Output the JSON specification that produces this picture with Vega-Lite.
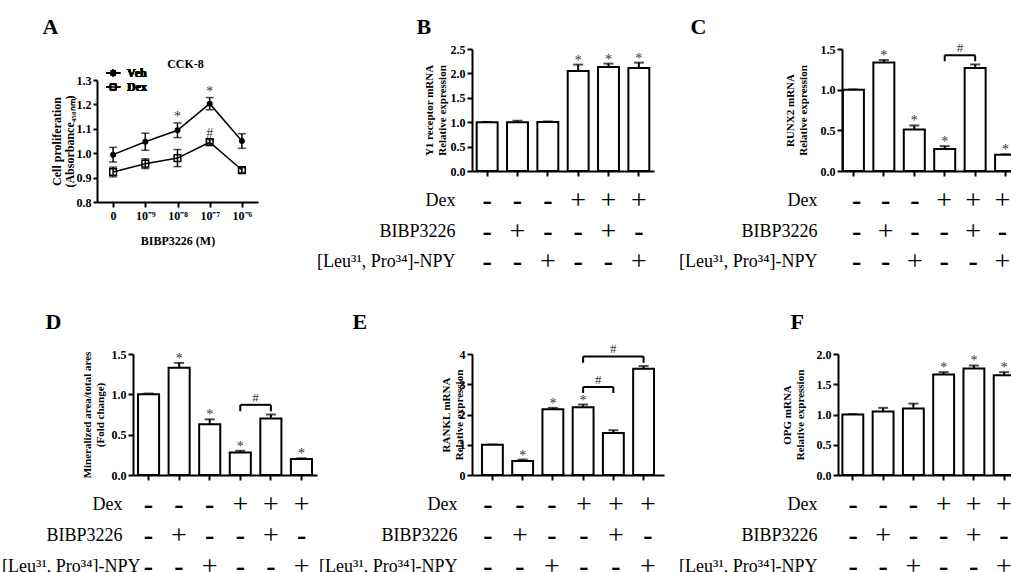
{
  "$schema": "https://vega.github.io/schema/vega-lite/v6.json",
  "padding": {"left": 0, "top": 14, "right": 0, "bottom": 0},
  "spacing": 31,
  "config": {
    "view": {"stroke": null},
    "font": "Liberation Serif",
    "axis": {
      "domainColor": "black", "domainWidth": 2, "tickColor": "black", "tickWidth": 2, "tickSize": 5,
      "labelFont": "Liberation Serif", "labelFontSize": 12, "labelFontWeight": "bold", "labelColor": "black", "labelPadding": 2,
      "titleFont": "Liberation Serif", "titleFontSize": 11, "titleFontWeight": "bold", "titleColor": "black", "titleLineHeight": 13,
      "grid": false
    },
    "text": {"font": "Liberation Serif", "color": "black"}
  },
  "datasets": {
    "A": [
      {"conc": 0, "series": "Veh", "value": 0.994, "err": 0.03, "sig": ""},
      {"conc": 1e-9, "series": "Veh", "value": 1.047, "err": 0.035, "sig": ""},
      {"conc": 1e-8, "series": "Veh", "value": 1.094, "err": 0.03, "sig": "*"},
      {"conc": 1e-7, "series": "Veh", "value": 1.203, "err": 0.025, "sig": "*"},
      {"conc": 1e-6, "series": "Veh", "value": 1.05, "err": 0.03, "sig": ""},
      {"conc": 0, "series": "Dex", "value": 0.923, "err": 0.02, "sig": ""},
      {"conc": 1e-9, "series": "Dex", "value": 0.957, "err": 0.02, "sig": ""},
      {"conc": 1e-8, "series": "Dex", "value": 0.98, "err": 0.035, "sig": ""},
      {"conc": 1e-7, "series": "Dex", "value": 1.045, "err": 0.01, "sig": "#"},
      {"conc": 1e-6, "series": "Dex", "value": 0.931, "err": 0.01, "sig": ""}
    ],
    "B": [
      {"g": "1", "value": 1.0, "err": 0.005, "sig": ""},
      {"g": "2", "value": 1.0, "err": 0.03, "sig": ""},
      {"g": "3", "value": 1.005, "err": 0.01, "sig": ""},
      {"g": "4", "value": 2.05, "err": 0.13, "sig": "*"},
      {"g": "5", "value": 2.13, "err": 0.07, "sig": "*"},
      {"g": "6", "value": 2.11, "err": 0.11, "sig": "*"}
    ],
    "C": [
      {"g": "1", "value": 1.0, "err": 0.0, "sig": ""},
      {"g": "2", "value": 1.335, "err": 0.03, "sig": "*"},
      {"g": "3", "value": 0.51, "err": 0.05, "sig": "*"},
      {"g": "4", "value": 0.27, "err": 0.035, "sig": "*"},
      {"g": "5", "value": 1.265, "err": 0.045, "sig": ""},
      {"g": "6", "value": 0.2, "err": 0.005, "sig": "*"}
    ],
    "D": [
      {"g": "1", "value": 1.0, "err": 0.01, "sig": ""},
      {"g": "2", "value": 1.33, "err": 0.06, "sig": "*"},
      {"g": "3", "value": 0.63, "err": 0.06, "sig": "*"},
      {"g": "4", "value": 0.28, "err": 0.02, "sig": "*"},
      {"g": "5", "value": 0.7, "err": 0.05, "sig": ""},
      {"g": "6", "value": 0.197, "err": 0.01, "sig": "*"}
    ],
    "E": [
      {"g": "1", "value": 1.0, "err": 0.005, "sig": ""},
      {"g": "2", "value": 0.46, "err": 0.05, "sig": "*"},
      {"g": "3", "value": 2.17, "err": 0.05, "sig": "*"},
      {"g": "4", "value": 2.24, "err": 0.09, "sig": "*"},
      {"g": "5", "value": 1.39, "err": 0.09, "sig": ""},
      {"g": "6", "value": 3.51, "err": 0.09, "sig": ""}
    ],
    "F": [
      {"g": "1", "value": 1.0, "err": 0.005, "sig": ""},
      {"g": "2", "value": 1.05, "err": 0.06, "sig": ""},
      {"g": "3", "value": 1.1, "err": 0.08, "sig": ""},
      {"g": "4", "value": 1.66, "err": 0.04, "sig": "*"},
      {"g": "5", "value": 1.76, "err": 0.05, "sig": "*"},
      {"g": "6", "value": 1.65, "err": 0.05, "sig": "*"}
    ],
    "brk": [
      {"panel": "C", "from": "4", "to": "5", "y": 1.423, "yl": 1.35, "label": "#", "span": 1},
      {"panel": "D", "from": "4", "to": "5", "y": 0.87, "yl": 0.79, "label": "#", "span": 1},
      {"panel": "E", "from": "4", "to": "5", "y": 2.91, "yl": 2.71, "label": "#", "span": 1},
      {"panel": "E", "from": "4", "to": "6", "y": 3.92, "yl": 3.71, "label": "#", "span": 2}
    ],
    "tab": [
      {"g": "1", "f": "Dex", "s": "-"}, {"g": "2", "f": "Dex", "s": "-"}, {"g": "3", "f": "Dex", "s": "-"},
      {"g": "4", "f": "Dex", "s": "+"}, {"g": "5", "f": "Dex", "s": "+"}, {"g": "6", "f": "Dex", "s": "+"},
      {"g": "1", "f": "BIBP3226", "s": "-"}, {"g": "2", "f": "BIBP3226", "s": "+"}, {"g": "3", "f": "BIBP3226", "s": "-"},
      {"g": "4", "f": "BIBP3226", "s": "-"}, {"g": "5", "f": "BIBP3226", "s": "+"}, {"g": "6", "f": "BIBP3226", "s": "-"},
      {"g": "1", "f": "[Leu³¹, Pro³⁴]-NPY", "s": "-"}, {"g": "2", "f": "[Leu³¹, Pro³⁴]-NPY", "s": "-"}, {"g": "3", "f": "[Leu³¹, Pro³⁴]-NPY", "s": "+"},
      {"g": "4", "f": "[Leu³¹, Pro³⁴]-NPY", "s": "-"}, {"g": "5", "f": "[Leu³¹, Pro³⁴]-NPY", "s": "-"}, {"g": "6", "f": "[Leu³¹, Pro³⁴]-NPY", "s": "+"}
    ]
  },
  "vconcat": [
    {
      "spacing": 0,
      "hconcat": [
        {"width": 42, "height": 1, "data": {"values": []}, "mark": "point"},
        {"spacing": 0, "vconcat": [
          {"width": 1, "height": 1, "data": {"values": []}, "mark": "point"},
          {
            "width": 161, "height": 122,
            "data": {"name": "A"},
            "resolve": {"scale": {"x": "independent", "y": "independent"}, "axis": {"x": "independent", "y": "independent"}},
            "layer": [
              {
                "encoding": {
                  "x": {"field": "conc", "type": "ordinal", "scale": {"type": "point", "padding": 0.5},
                        "axis": {"title": "BIBP3226 (M)", "titleFontSize": 12, "labelAngle": 0, "labelPadding": 3, "titlePadding": 14,
                                 "labelExpr": "datum.value === 0 ? '0' : datum.value === 1e-9 ? '10⁻⁹' : datum.value === 1e-8 ? '10⁻⁸' : datum.value === 1e-7 ? '10⁻⁷' : '10⁻⁶'"}},
                  "y": {"field": "value", "type": "quantitative", "title": ["Cell  proliferation", "(Absorbance₄₅₀ₙₘ)"],
                        "scale": {"domain": [0.8, 1.3], "nice": false, "zero": false},
                        "axis": {"values": [0.8, 0.9, 1.0, 1.1, 1.2, 1.3], "format": ".1f", "titlePadding": 0, "titleFontSize": 12, "tickSize": 4}}
                },
                "layer": [
                  {"mark": {"type": "errorbar", "ticks": true, "size": 8, "thickness": 1.5, "color": "black"},
                   "encoding": {"yError": {"field": "err"}, "detail": {"field": "series"}}},
                  {"mark": {"type": "line", "color": "black", "strokeWidth": 1.5},
                   "encoding": {"detail": {"field": "series"}}},
                  {"transform": [{"filter": "datum.series === 'Veh'"}],
                   "mark": {"type": "point", "shape": "circle", "filled": true, "color": "black", "size": 35, "opacity": 1}},
                  {"transform": [{"filter": "datum.series === 'Dex'"}],
                   "mark": {"type": "point", "shape": "square", "filled": false, "color": "black", "size": 45, "strokeWidth": 1.5, "opacity": 1}},
                  {"transform": [{"calculate": "datum.value + datum.err", "as": "top"}],
                   "mark": {"type": "text", "baseline": "alphabetic", "fontSize": 14, "dy": -2, "color": "#333"},
                   "encoding": {"y": {"field": "top", "type": "quantitative", "title": ["Cell  proliferation", "(Absorbance₄₅₀ₙₘ)"]}, "text": {"field": "sig"}}},
                  {"mark": {"type": "point", "shape": "M-1,0H-0.35M0.35,0H1M-0.35,0A0.35,0.35,0,1,1,0.35,0A0.35,0.35,0,1,1,-0.35,0Z", "size": 200, "filled": true, "fill": "black", "stroke": "black", "strokeWidth": 1.5, "opacity": 1},
                   "encoding": {"x": {"datum": 0, "type": "ordinal"}, "y": {"datum": 1.3287, "type": "quantitative"}}},
                  {"mark": {"type": "point", "shape": "M-1,0H1M-0.35,-0.35H0.35V0.35H-0.35Z", "size": 200, "filled": true, "fill": "white", "stroke": "black", "strokeWidth": 1.5, "opacity": 1},
                   "encoding": {"x": {"datum": 0, "type": "ordinal"}, "y": {"datum": 1.2713, "type": "quantitative"}}},
                  {"mark": {"type": "text", "align": "left", "dx": 14, "baseline": "middle", "fontSize": 12, "fontWeight": "bold"},
                   "encoding": {"x": {"datum": 0, "type": "ordinal"}, "y": {"datum": 1.3287, "type": "quantitative"}, "text": {"value": "Veh"}}},
                  {"mark": {"type": "text", "align": "left", "dx": 14, "baseline": "middle", "fontSize": 12, "fontWeight": "bold"},
                   "encoding": {"x": {"datum": 0, "type": "ordinal"}, "y": {"datum": 1.2713, "type": "quantitative"}, "text": {"value": "Dex"}}}
                ]
              },
              {
                "transform": [{"filter": "false"}],
                "mark": "point",
                "encoding": {
                  "x": {"field": "conc", "type": "ordinal",
                        "axis": {"orient": "top", "labels": false, "ticks": false, "domain": false, "title": "A", "titleX": -55, "titleY": -47,
                                 "titleAlign": "left", "titleBaseline": "alphabetic", "titleFontSize": 22, "titleAngle": 0}},
                  "y": {"field": "value", "type": "quantitative", "scale": {"domain": [0, 1]},
                        "axis": {"orient": "right", "labels": false, "ticks": false, "domain": false, "title": "CCK-8", "titleX": -73, "titleY": -13,
                                 "titleAlign": "center", "titleBaseline": "alphabetic", "titleFontSize": 12, "titleAngle": 0}}
                }
              }
            ]
          }
        ]},
        {"width": 58, "height": 1, "data": {"values": []}, "mark": "point"},
        {"spacing": 0, "vconcat": [
          {"width": 1, "height": 1, "data": {"values": []}, "mark": "point"},
          {"spacing": 8.75, "vconcat": [
            {
              "width": 182, "height": 122,
              "data": {"name": "B"},
              "resolve": {"scale": {"x": "independent"}, "axis": {"x": "independent"}},
              "layer": [
                {
                  "encoding": {
                    "x": {"field": "g", "type": "nominal", "scale": {"paddingInner": 0.31, "paddingOuter": 0.155}, "axis": {"labels": false, "title": null}},
                    "y": {"field": "value", "type": "quantitative", "title": ["Y1 receptor mRNA", "Relative expression"],
                          "scale": {"domain": [0, 2.5], "nice": false}, "axis": {"values": [0, 0.5, 1, 1.5, 2, 2.5], "format": ".1f", "titlePadding": 3}}
                  },
                  "layer": [
                    {"mark": {"type": "errorbar", "ticks": true, "size": 10, "thickness": 2, "color": "black"}, "encoding": {"yError": {"field": "err"}}},
                    {"mark": {"type": "bar", "fill": "white", "stroke": "black", "strokeWidth": 2}},
                    {"transform": [{"calculate": "datum.value + datum.err", "as": "top"}],
                     "mark": {"type": "text", "baseline": "alphabetic", "fontSize": 14, "color": "#333"},
                     "encoding": {"y": {"field": "top", "type": "quantitative", "title": ["Y1 receptor mRNA", "Relative expression"]}, "text": {"field": "sig"}}}
                  ]
                },
                {
                  "transform": [{"filter": "false"}], "mark": "point",
                  "encoding": {"x": {"field": "g", "type": "nominal",
                    "axis": {"orient": "top", "labels": false, "ticks": false, "domain": false, "title": "B", "titleX": -56, "titleY": -16,
                             "titleAlign": "left", "titleBaseline": "alphabetic", "titleFontSize": 22, "titleAngle": 0}}}
                }
              ]
            },
            {
              "width": 182, "height": 91.5,
              "data": {"name": "tab"},
              "encoding": {
                "x": {"field": "g", "type": "nominal", "scale": {"paddingInner": 0.31, "paddingOuter": 0.155}, "axis": null},
                "y": {"field": "f", "type": "nominal", "sort": ["Dex", "BIBP3226", "[Leu³¹, Pro³⁴]-NPY"], "scale": {"type": "band", "paddingInner": 0, "paddingOuter": 0},
                      "axis": {"title": null, "domain": false, "ticks": false, "labelFont": "Liberation Serif, Times New Roman, serif", "labelFontWeight": "normal", "labelFontSize": 18, "labelPadding": 17}},
                "text": {"field": "s"}
              },
              "layer": [
                {"transform": [{"filter": "datum.s === '+'"}], "mark": {"type": "text", "font": "Liberation Serif, Times New Roman, serif", "fontSize": 28, "baseline": "middle"}},
                {"transform": [{"filter": "datum.s === '-'"}], "mark": {"type": "text", "font": "Liberation Serif, Times New Roman, serif", "fontSize": 28, "fontWeight": "bold", "baseline": "middle"}}
              ]
            }
          ]}
        ]},
        {"width": 24, "height": 1, "data": {"values": []}, "mark": "point"},
        {"spacing": 0, "vconcat": [
          {"width": 1, "height": 1, "data": {"values": []}, "mark": "point"},
          {"spacing": 8.75, "vconcat": [
            {
              "width": 175, "height": 122,
              "data": {"name": "C"},
              "resolve": {"scale": {"x": "independent"}, "axis": {"x": "independent"}},
              "layer": [
                {
                  "encoding": {
                    "x": {"field": "g", "type": "nominal", "scale": {"paddingInner": 0.31, "paddingOuter": 0.03}, "axis": {"labels": false, "title": null}},
                    "y": {"field": "value", "type": "quantitative", "title": ["RUNX2  mRNA", "Relative expression"],
                          "scale": {"domain": [0, 1.5], "nice": false}, "axis": {"values": [0, 0.5, 1, 1.5], "format": ".1f", "titlePadding": 12}}
                  },
                  "layer": [
                    {"mark": {"type": "errorbar", "ticks": true, "size": 10, "thickness": 2, "color": "black"}, "encoding": {"yError": {"field": "err"}}},
                    {"mark": {"type": "bar", "fill": "white", "stroke": "black", "strokeWidth": 2}},
                    {"transform": [{"calculate": "datum.value + datum.err", "as": "top"}],
                     "mark": {"type": "text", "baseline": "alphabetic", "fontSize": 14, "color": "#333"},
                     "encoding": {"y": {"field": "top", "type": "quantitative", "title": ["RUNX2  mRNA", "Relative expression"]}, "text": {"field": "sig"}}},
                    {"data": {"name": "brk"}, "transform": [{"filter": "datum.panel === 'C'"}],
                     "mark": {"type": "rule", "strokeWidth": 2, "color": "black"},
                     "encoding": {"x": {"field": "from", "type": "nominal"}, "x2": {"field": "to"}, "y": {"field": "y", "type": "quantitative", "title": ["RUNX2  mRNA", "Relative expression"]}}},
                    {"data": {"name": "brk"}, "transform": [{"filter": "datum.panel === 'C'"}],
                     "mark": {"type": "rule", "strokeWidth": 2, "color": "black"},
                     "encoding": {"x": {"field": "from", "type": "nominal"}, "y": {"field": "yl", "type": "quantitative", "title": ["RUNX2  mRNA", "Relative expression"]}, "y2": {"field": "y"}}},
                    {"data": {"name": "brk"}, "transform": [{"filter": "datum.panel === 'C'"}],
                     "mark": {"type": "rule", "strokeWidth": 2, "color": "black"},
                     "encoding": {"x": {"field": "to", "type": "nominal"}, "y": {"field": "yl", "type": "quantitative", "title": ["RUNX2  mRNA", "Relative expression"]}, "y2": {"field": "y"}}},
                    {"data": {"name": "brk"}, "transform": [{"filter": "datum.panel === 'C' && datum.span === 1"}],
                     "mark": {"type": "text", "baseline": "alphabetic", "fontSize": 13, "dy": -3, "color": "#333"},
                     "encoding": {"x": {"field": "from", "type": "nominal", "bandPosition": 1.225}, "y": {"field": "y", "type": "quantitative", "title": ["RUNX2  mRNA", "Relative expression"]}, "text": {"field": "label"}}}
                  ]
                },
                {
                  "transform": [{"filter": "false"}], "mark": "point",
                  "encoding": {"x": {"field": "g", "type": "nominal",
                    "axis": {"orient": "top", "labels": false, "ticks": false, "domain": false, "title": "C", "titleX": -152, "titleY": -16,
                             "titleAlign": "left", "titleBaseline": "alphabetic", "titleFontSize": 22, "titleAngle": 0}}}
                }
              ]
            },
            {
              "width": 175, "height": 91.5,
              "data": {"name": "tab"},
              "encoding": {
                "x": {"field": "g", "type": "nominal", "scale": {"paddingInner": 0.31, "paddingOuter": 0.03}, "axis": null},
                "y": {"field": "f", "type": "nominal", "sort": ["Dex", "BIBP3226", "[Leu³¹, Pro³⁴]-NPY"], "scale": {"type": "band", "paddingInner": 0, "paddingOuter": 0},
                      "axis": {"title": null, "domain": false, "ticks": false, "labelFont": "Liberation Serif, Times New Roman, serif", "labelFontWeight": "normal", "labelFontSize": 18, "labelPadding": 25}},
                "text": {"field": "s"}
              },
              "layer": [
                {"transform": [{"filter": "datum.s === '+'"}], "mark": {"type": "text", "font": "Liberation Serif, Times New Roman, serif", "fontSize": 28, "baseline": "middle"}},
                {"transform": [{"filter": "datum.s === '-'"}], "mark": {"type": "text", "font": "Liberation Serif, Times New Roman, serif", "fontSize": 28, "fontWeight": "bold", "baseline": "middle"}}
              ]
            }
          ]}
        ]}
      ]
    },
    {
      "spacing": 0,
      "hconcat": [
        {"width": 1, "height": 1, "data": {"values": []}, "mark": "point"},
        {"spacing": 0, "vconcat": [
          {"width": 1, "height": 1, "data": {"values": []}, "mark": "point"},
          {"spacing": 8.5, "vconcat": [
            {
              "width": 184, "height": 121,
              "data": {"name": "D"},
              "resolve": {"scale": {"x": "independent"}, "axis": {"x": "independent"}},
              "layer": [
                {
                  "encoding": {
                    "x": {"field": "g", "type": "nominal", "scale": {"paddingInner": 0.31, "paddingOuter": 0.164}, "axis": {"labels": false, "title": null}},
                    "y": {"field": "value", "type": "quantitative", "title": ["Mineralized area/total ares", "(Fold change)"],
                          "scale": {"domain": [0, 1.5], "nice": false}, "axis": {"values": [0, 0.5, 1, 1.5], "format": ".1f", "titlePadding": 6}}
                  },
                  "layer": [
                    {"mark": {"type": "errorbar", "ticks": true, "size": 10, "thickness": 2, "color": "black"}, "encoding": {"yError": {"field": "err"}}},
                    {"mark": {"type": "bar", "fill": "white", "stroke": "black", "strokeWidth": 2}},
                    {"transform": [{"calculate": "datum.value + datum.err", "as": "top"}],
                     "mark": {"type": "text", "baseline": "alphabetic", "fontSize": 14, "color": "#333"},
                     "encoding": {"y": {"field": "top", "type": "quantitative", "title": ["Mineralized area/total ares", "(Fold change)"]}, "text": {"field": "sig"}}},
                    {"data": {"name": "brk"}, "transform": [{"filter": "datum.panel === 'D'"}],
                     "mark": {"type": "rule", "strokeWidth": 2, "color": "black"},
                     "encoding": {"x": {"field": "from", "type": "nominal"}, "x2": {"field": "to"}, "y": {"field": "y", "type": "quantitative", "title": ["Mineralized area/total ares", "(Fold change)"]}}},
                    {"data": {"name": "brk"}, "transform": [{"filter": "datum.panel === 'D'"}],
                     "mark": {"type": "rule", "strokeWidth": 2, "color": "black"},
                     "encoding": {"x": {"field": "from", "type": "nominal"}, "y": {"field": "yl", "type": "quantitative", "title": ["Mineralized area/total ares", "(Fold change)"]}, "y2": {"field": "y"}}},
                    {"data": {"name": "brk"}, "transform": [{"filter": "datum.panel === 'D'"}],
                     "mark": {"type": "rule", "strokeWidth": 2, "color": "black"},
                     "encoding": {"x": {"field": "to", "type": "nominal"}, "y": {"field": "yl", "type": "quantitative", "title": ["Mineralized area/total ares", "(Fold change)"]}, "y2": {"field": "y"}}},
                    {"data": {"name": "brk"}, "transform": [{"filter": "datum.panel === 'D' && datum.span === 1"}],
                     "mark": {"type": "text", "baseline": "alphabetic", "fontSize": 13, "dy": -3, "color": "#333"},
                     "encoding": {"x": {"field": "from", "type": "nominal", "bandPosition": 1.225}, "y": {"field": "y", "type": "quantitative", "title": ["Mineralized area/total ares", "(Fold change)"]}, "text": {"field": "label"}}}
                  ]
                },
                {
                  "transform": [{"filter": "false"}], "mark": "point",
                  "encoding": {"x": {"field": "g", "type": "nominal",
                    "axis": {"orient": "top", "labels": false, "ticks": false, "domain": false, "title": "D", "titleX": -88, "titleY": -26,
                             "titleAlign": "left", "titleBaseline": "alphabetic", "titleFontSize": 22, "titleAngle": 0}}}
                }
              ]
            },
            {
              "width": 184, "height": 93,
              "data": {"name": "tab"},
              "encoding": {
                "x": {"field": "g", "type": "nominal", "scale": {"paddingInner": 0.31, "paddingOuter": 0.164}, "axis": null},
                "y": {"field": "f", "type": "nominal", "sort": ["Dex", "BIBP3226", "[Leu³¹, Pro³⁴]-NPY"], "scale": {"type": "band", "paddingInner": 0, "paddingOuter": 0},
                      "axis": {"title": null, "domain": false, "ticks": false, "labelFont": "Liberation Serif, Times New Roman, serif", "labelFontWeight": "normal", "labelFontSize": 18,
                               "labelPadding": {"condition": {"test": "datum.value === '[Leu³¹, Pro³⁴]-NPY'", "value": -7}, "value": 11}}},
                "text": {"field": "s"}
              },
              "layer": [
                {"transform": [{"filter": "datum.s === '+'"}], "mark": {"type": "text", "font": "Liberation Serif, Times New Roman, serif", "fontSize": 28, "baseline": "middle"}},
                {"transform": [{"filter": "datum.s === '-'"}], "mark": {"type": "text", "font": "Liberation Serif, Times New Roman, serif", "fontSize": 28, "fontWeight": "bold", "baseline": "middle"}}
              ]
            }
          ]}
        ]},
        {"width": 1, "height": 1, "data": {"values": []}, "mark": "point"},
        {"spacing": 0, "vconcat": [
          {"width": 1, "height": 1, "data": {"values": []}, "mark": "point"},
          {"spacing": 8.5, "vconcat": [
            {
              "width": 192, "height": 121,
              "data": {"name": "E"},
              "resolve": {"scale": {"x": "independent"}, "axis": {"x": "independent"}},
              "layer": [
                {
                  "encoding": {
                    "x": {"field": "g", "type": "nominal", "scale": {"paddingInner": 0.31, "paddingOuter": 0.33}, "axis": {"labels": false, "title": null}},
                    "y": {"field": "value", "type": "quantitative", "title": ["RANKL mRNA", "Relative expression"],
                          "scale": {"domain": [0, 4], "nice": false}, "axis": {"values": [0, 1, 2, 3, 4], "format": "d", "titlePadding": -5}}
                  },
                  "layer": [
                    {"mark": {"type": "errorbar", "ticks": true, "size": 10, "thickness": 2, "color": "black"}, "encoding": {"yError": {"field": "err"}}},
                    {"mark": {"type": "bar", "fill": "white", "stroke": "black", "strokeWidth": 2}},
                    {"transform": [{"calculate": "datum.value + datum.err", "as": "top"}],
                     "mark": {"type": "text", "baseline": "alphabetic", "fontSize": 14, "color": "#333"},
                     "encoding": {"y": {"field": "top", "type": "quantitative", "title": ["RANKL mRNA", "Relative expression"]}, "text": {"field": "sig"}}},
                    {"data": {"name": "brk"}, "transform": [{"filter": "datum.panel === 'E'"}],
                     "mark": {"type": "rule", "strokeWidth": 2, "color": "black"},
                     "encoding": {"x": {"field": "from", "type": "nominal"}, "x2": {"field": "to"}, "y": {"field": "y", "type": "quantitative", "title": ["RANKL mRNA", "Relative expression"]}}},
                    {"data": {"name": "brk"}, "transform": [{"filter": "datum.panel === 'E'"}],
                     "mark": {"type": "rule", "strokeWidth": 2, "color": "black"},
                     "encoding": {"x": {"field": "from", "type": "nominal"}, "y": {"field": "yl", "type": "quantitative", "title": ["RANKL mRNA", "Relative expression"]}, "y2": {"field": "y"}}},
                    {"data": {"name": "brk"}, "transform": [{"filter": "datum.panel === 'E'"}],
                     "mark": {"type": "rule", "strokeWidth": 2, "color": "black"},
                     "encoding": {"x": {"field": "to", "type": "nominal"}, "y": {"field": "yl", "type": "quantitative", "title": ["RANKL mRNA", "Relative expression"]}, "y2": {"field": "y"}}},
                    {"data": {"name": "brk"}, "transform": [{"filter": "datum.panel === 'E' && datum.span === 1"}],
                     "mark": {"type": "text", "baseline": "alphabetic", "fontSize": 13, "dy": -3, "color": "#333"},
                     "encoding": {"x": {"field": "from", "type": "nominal", "bandPosition": 1.225}, "y": {"field": "y", "type": "quantitative", "title": ["RANKL mRNA", "Relative expression"]}, "text": {"field": "label"}}},
                    {"data": {"name": "brk"}, "transform": [{"filter": "datum.panel === 'E' && datum.span === 2"}],
                     "mark": {"type": "text", "baseline": "alphabetic", "fontSize": 13, "dy": -3, "color": "#333"},
                     "encoding": {"x": {"field": "from", "type": "nominal", "bandPosition": 1.949}, "y": {"field": "y", "type": "quantitative", "title": ["RANKL mRNA", "Relative expression"]}, "text": {"field": "label"}}}
                  ]
                },
                {
                  "transform": [{"filter": "false"}], "mark": "point",
                  "encoding": {"x": {"field": "g", "type": "nominal",
                    "axis": {"orient": "top", "labels": false, "ticks": false, "domain": false, "title": "E", "titleX": -120, "titleY": -26,
                             "titleAlign": "left", "titleBaseline": "alphabetic", "titleFontSize": 22, "titleAngle": 0}}}
                }
              ]
            },
            {
              "width": 192, "height": 93,
              "data": {"name": "tab"},
              "encoding": {
                "x": {"field": "g", "type": "nominal", "scale": {"paddingInner": 0.31, "paddingOuter": 0.33}, "axis": null},
                "y": {"field": "f", "type": "nominal", "sort": ["Dex", "BIBP3226", "[Leu³¹, Pro³⁴]-NPY"], "scale": {"type": "band", "paddingInner": 0, "paddingOuter": 0},
                      "axis": {"title": null, "domain": false, "ticks": false, "labelFont": "Liberation Serif, Times New Roman, serif", "labelFontWeight": "normal", "labelFontSize": 18, "labelPadding": 15}},
                "text": {"field": "s"}
              },
              "layer": [
                {"transform": [{"filter": "datum.s === '+'"}], "mark": {"type": "text", "font": "Liberation Serif, Times New Roman, serif", "fontSize": 28, "baseline": "middle"}},
                {"transform": [{"filter": "datum.s === '-'"}], "mark": {"type": "text", "font": "Liberation Serif, Times New Roman, serif", "fontSize": 28, "fontWeight": "bold", "baseline": "middle"}}
              ]
            }
          ]}
        ]},
        {"width": 14, "height": 1, "data": {"values": []}, "mark": "point"},
        {"spacing": 0, "vconcat": [
          {"width": 1, "height": 1, "data": {"values": []}, "mark": "point"},
          {"spacing": 8.5, "vconcat": [
            {
              "width": 181, "height": 121,
              "data": {"name": "F"},
              "resolve": {"scale": {"x": "independent"}, "axis": {"x": "independent"}},
              "layer": [
                {
                  "encoding": {
                    "x": {"field": "g", "type": "nominal", "scale": {"paddingInner": 0.31, "paddingOuter": 0.145}, "axis": {"labels": false, "title": null}},
                    "y": {"field": "value", "type": "quantitative", "title": ["OPG mRNA", "Relative expression"],
                          "scale": {"domain": [0, 2], "nice": false}, "axis": {"values": [0, 0.5, 1, 1.5, 2], "format": ".1f", "titlePadding": 11}}
                  },
                  "layer": [
                    {"mark": {"type": "errorbar", "ticks": true, "size": 10, "thickness": 2, "color": "black"}, "encoding": {"yError": {"field": "err"}}},
                    {"mark": {"type": "bar", "fill": "white", "stroke": "black", "strokeWidth": 2}},
                    {"transform": [{"calculate": "datum.value + datum.err", "as": "top"}],
                     "mark": {"type": "text", "baseline": "alphabetic", "fontSize": 14, "color": "#333"},
                     "encoding": {"y": {"field": "top", "type": "quantitative", "title": ["OPG mRNA", "Relative expression"]}, "text": {"field": "sig"}}}
                  ]
                },
                {
                  "transform": [{"filter": "false"}], "mark": "point",
                  "encoding": {"x": {"field": "g", "type": "nominal",
                    "axis": {"orient": "top", "labels": false, "ticks": false, "domain": false, "title": "F", "titleX": -48, "titleY": -26,
                             "titleAlign": "left", "titleBaseline": "alphabetic", "titleFontSize": 22, "titleAngle": 0}}}
                }
              ]
            },
            {
              "width": 181, "height": 93,
              "data": {"name": "tab"},
              "encoding": {
                "x": {"field": "g", "type": "nominal", "scale": {"paddingInner": 0.31, "paddingOuter": 0.145}, "axis": null},
                "y": {"field": "f", "type": "nominal", "sort": ["Dex", "BIBP3226", "[Leu³¹, Pro³⁴]-NPY"], "scale": {"type": "band", "paddingInner": 0, "paddingOuter": 0},
                      "axis": {"title": null, "domain": false, "ticks": false, "labelFont": "Liberation Serif, Times New Roman, serif", "labelFontWeight": "normal", "labelFontSize": 18, "labelPadding": 21}},
                "text": {"field": "s"}
              },
              "layer": [
                {"transform": [{"filter": "datum.s === '+'"}], "mark": {"type": "text", "font": "Liberation Serif, Times New Roman, serif", "fontSize": 28, "baseline": "middle"}},
                {"transform": [{"filter": "datum.s === '-'"}], "mark": {"type": "text", "font": "Liberation Serif, Times New Roman, serif", "fontSize": 28, "fontWeight": "bold", "baseline": "middle"}}
              ]
            }
          ]}
        ]}
      ]
    }
  ]
}
